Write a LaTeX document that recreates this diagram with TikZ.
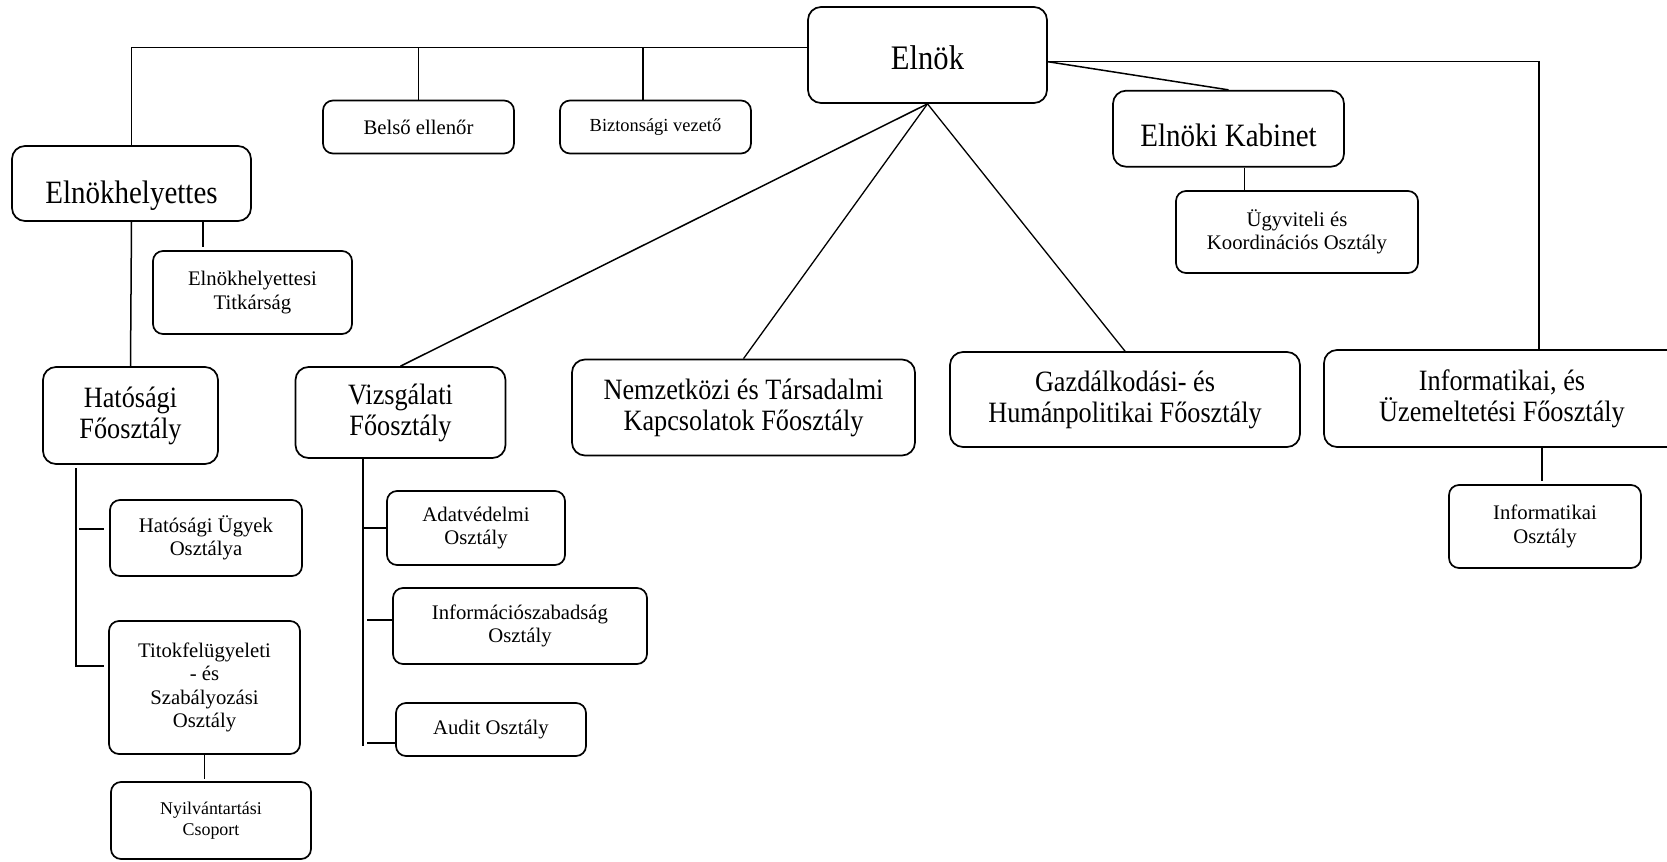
\documentclass[tikz,border=0pt]{standalone}
\usepackage{fontspec}
\setmainfont{Liberation Serif}
\newfontfamily\condfont{Liberation Serif}[FakeStretch=0.89]
\usetikzlibrary{calc}
\tikzset{
  orgbox/.style={draw, line width=1.7bp, rounded corners=13bp, align=center, inner sep=2bp},
  bigbox/.style={orgbox, font=\condfont\fontsize{29.6}{31}\selectfont},
  smallbox/.style={orgbox, rounded corners=10bp, font=\fontsize{20.8}{23.5}\selectfont},
  conn/.style={line width=1.5bp},
}
\begin{document}
\begin{tikzpicture}[x=1bp,y=-1bp]
\useasboundingbox (0,0) rectangle (1667,861);
\clip (0,0) rectangle (1667,861);
% top level
\node[orgbox, font=\condfont\fontsize{34.5}{36}\selectfont, text height=28bp, text depth=0bp,
      minimum width=239bp, minimum height=96bp] (elnok) at (927.5,55) {Elnök};
\node[orgbox, font=\condfont\fontsize{32.7}{34}\selectfont, text height=39.6bp, text depth=0bp,
      minimum width=239bp, minimum height=75bp] (eh) at (131.5,183.5) {Elnökhelyettes};
\node[smallbox, minimum width=191bp, minimum height=53bp] (belso) at (418.5,127) {Belső ellenőr};
\node[smallbox, font=\fontsize{18.5}{22}\selectfont, minimum width=191bp, minimum height=53bp] (bizt) at (655.5,127) {Biztonsági vezető};
\node[orgbox, font=\condfont\fontsize{32.7}{34}\selectfont, text height=36bp, text depth=0bp,
      minimum width=231bp, minimum height=76bp] (kab) at (1228.5,128.7) {Elnöki Kabinet};
\node[smallbox, minimum width=242bp, minimum height=82bp] (ugy) at (1297,232) {Ügyviteli és\\Koordinációs Osztály};
\node[smallbox, minimum width=199bp, minimum height=83bp] (titk) at (252.5,292.5) {Elnökhelyettesi\\Titkárság};
% main departments
\node[bigbox, minimum width=175bp, minimum height=97bp] (hat) at (130.5,415.5) {Hatósági\\Főosztály};
\node[bigbox, minimum width=210bp, minimum height=91bp] (vizs) at (400.5,412.5) {Vizsgálati\\Főosztály};
\node[bigbox, minimum width=343bp, minimum height=96bp] (nemz) at (743.5,407.5) {Nemzetközi és Társadalmi\\Kapcsolatok Főosztály};
\node[bigbox, minimum width=350bp, minimum height=95bp] (gazd) at (1125,399.5) {Gazdálkodási- és\\Humánpolitikai Főosztály};
\node[bigbox, minimum width=356bp, minimum height=97bp] (info) at (1502,398.5) {Informatikai, és\\Üzemeltetési Főosztály};
% sub units
\node[smallbox, minimum width=192bp, minimum height=76bp] (hugy) at (206,538) {Hatósági Ügyek\\Osztálya};
\node[smallbox, minimum width=191bp, minimum height=133bp] (titok) at (204.5,687.5) {Titokfelügyeleti\\- és\\Szabályozási\\Osztály};
\node[smallbox, font=\fontsize{18}{21.7}\selectfont, minimum width=200bp, minimum height=77bp] (nyilv) at (211,820.5) {Nyilvántartási\\Csoport};
\node[smallbox, minimum width=178bp, minimum height=74bp] (adat) at (476,528) {Adatvédelmi\\Osztály};
\node[smallbox, minimum width=254bp, minimum height=76bp] (isz) at (520,626) {Információszabadság\\Osztály};
\node[smallbox, minimum width=190bp, minimum height=53bp] (audit) at (491,729.5) {Audit Osztály};
\node[smallbox, minimum width=192bp, minimum height=83bp] (infoo) at (1545,526.5) {Informatikai\\Osztály};
% helper coordinates
\coordinate (topL) at (131.5,47.7);
\coordinate (bzx) at (643,47.7);
\coordinate (rt) at (1539,61.7);
\coordinate (tkx) at (203,247);
\coordinate (kbx) at (1244.5,191);
\coordinate (iox) at (1542,481);
\coordinate (hv) at (76,468);
\coordinate (hb) at (76,666);
\coordinate (ht1) at (104,529);
\coordinate (ht2) at (104,666);
\coordinate (vv) at (363,458);
\coordinate (vb) at (363,746);
\coordinate (vt2) at (393,620);
\coordinate (vt3) at (396,743);
\coordinate (ny) at (204.5,779);
% connectors
\draw[conn] (elnok.west |- topL) -- (topL) -- (eh.north);
\draw[conn] (belso.north |- topL) -- (belso.north);
\draw[conn] (bzx) -- (bzx |- bizt.north);
\draw[conn] (elnok.east |- rt) -- (rt) -- (rt |- info.north);
\draw[conn] (elnok.east |- rt) -- (kab.north);
\draw[conn] (elnok.south) -- (vizs.north);
\draw[conn, line width=1.3bp] (elnok.south) -- (nemz.north);
\draw[conn, line width=1.3bp] (elnok.south) -- (gazd.north);
\draw[conn] (eh.south) -- (hat.north);
\draw[conn] (tkx |- eh.south) -- (tkx);
\draw[conn] (kbx |- kab.south) -- (kbx |- ugy.north);
\draw[conn] (iox |- info.south) -- (iox);
\draw[conn] (hv) -- (hb) -- (ht2);
\draw[conn] ([xshift=3bp]hv |- ht1) -- (ht1);
\draw[conn] (vv) -- (vb);
\draw[conn] (vv |- adat.west) -- (adat.west);
\draw[conn] ([xshift=4bp]vv |- vt2) -- (vt2);
\draw[conn] ([xshift=4bp]vv |- vt3) -- (vt3);
\draw[conn] (titok.south) -- (ny);
\end{tikzpicture}
\end{document}
